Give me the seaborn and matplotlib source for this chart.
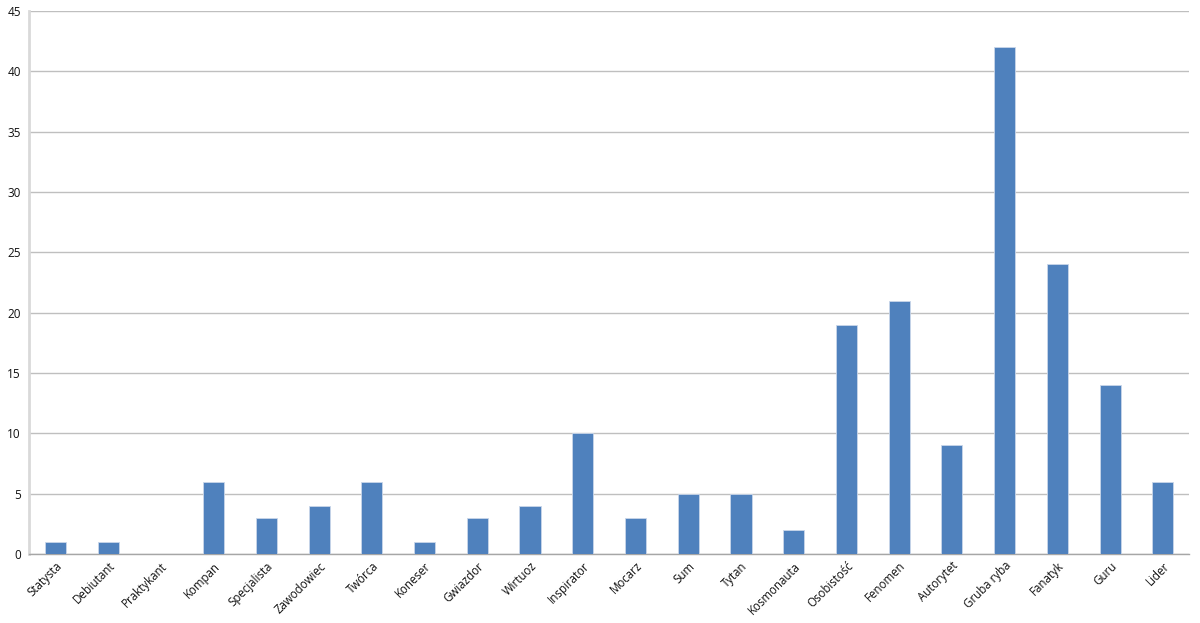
import matplotlib
matplotlib.use("Agg")
import matplotlib.pyplot as plt
import pandas as pd
import seaborn as sns

categories = ["Statysta", "Debiutant", "Praktykant", "Kompan", "Specjalista",
              "Zawodowiec", "Twórca", "Koneser", "Gwiazdor", "Wirtuoz",
              "Inspirator", "Mocarz", "Sum", "Tytan", "Kosmonauta",
              "Osobistość", "Fenomen", "Autorytet", "Gruba ryba", "Fanatyk",
              "Guru", "Lider"]
values = [1, 1, 0, 6, 3, 4, 6, 1, 3, 4, 10, 3, 5, 5, 2, 19, 21, 9, 42, 24, 14, 6]
yticks = list(range(0, 50, 5))

df = pd.DataFrame({"cat": categories, "val": values})

sns.set_style("white")
plt.rcParams["font.family"] = ["Open Sans", "DejaVu Sans"]

fig = plt.figure(figsize=(12, 6.23), dpi=100)
ax = fig.add_axes([0.0242, 0.1108, 0.9668, 0.8715])
sns.barplot(data=df, x="cat", y="val", color="#4F81BD", saturation=1,
            width=0.4, edgecolor="#C9D6EA", linewidth=0.6, ax=ax, zorder=3)

ax.set_ylim(0, 45)
ax.set_yticks(yticks)
ax.set_xlim(-0.5, len(categories) - 0.5)
ax.yaxis.grid(True, color="#BFBFBF", linewidth=1, zorder=0)
ax.set_axisbelow(True)
ax.set_xlabel("")
ax.set_ylabel("")

for s in ["top", "right"]:
    ax.spines[s].set_visible(False)
ax.spines["left"].set_color("#D9D9D9")
ax.spines["left"].set_linewidth(2)
ax.spines["bottom"].set_color("#A6A6A6")
ax.spines["bottom"].set_linewidth(1)

ax.set_xticks([i - 0.5 for i in range(len(categories) + 1)], minor=True)
ax.tick_params(axis="x", which="minor", length=5, color="#A6A6A6", width=1, direction="out")
ax.tick_params(axis="x", which="major", length=0, pad=4, labelcolor="#111111")
ax.tick_params(axis="y", length=4, color="#BFBFBF", width=1, labelsize=8.5, pad=2,
               labelcolor="#111111")
ax.set_xticks(range(len(categories)))
ax.set_xticklabels(categories, rotation=45, ha="right", rotation_mode="anchor", fontsize=8.3)

fig.savefig("out.png", dpi=100)
